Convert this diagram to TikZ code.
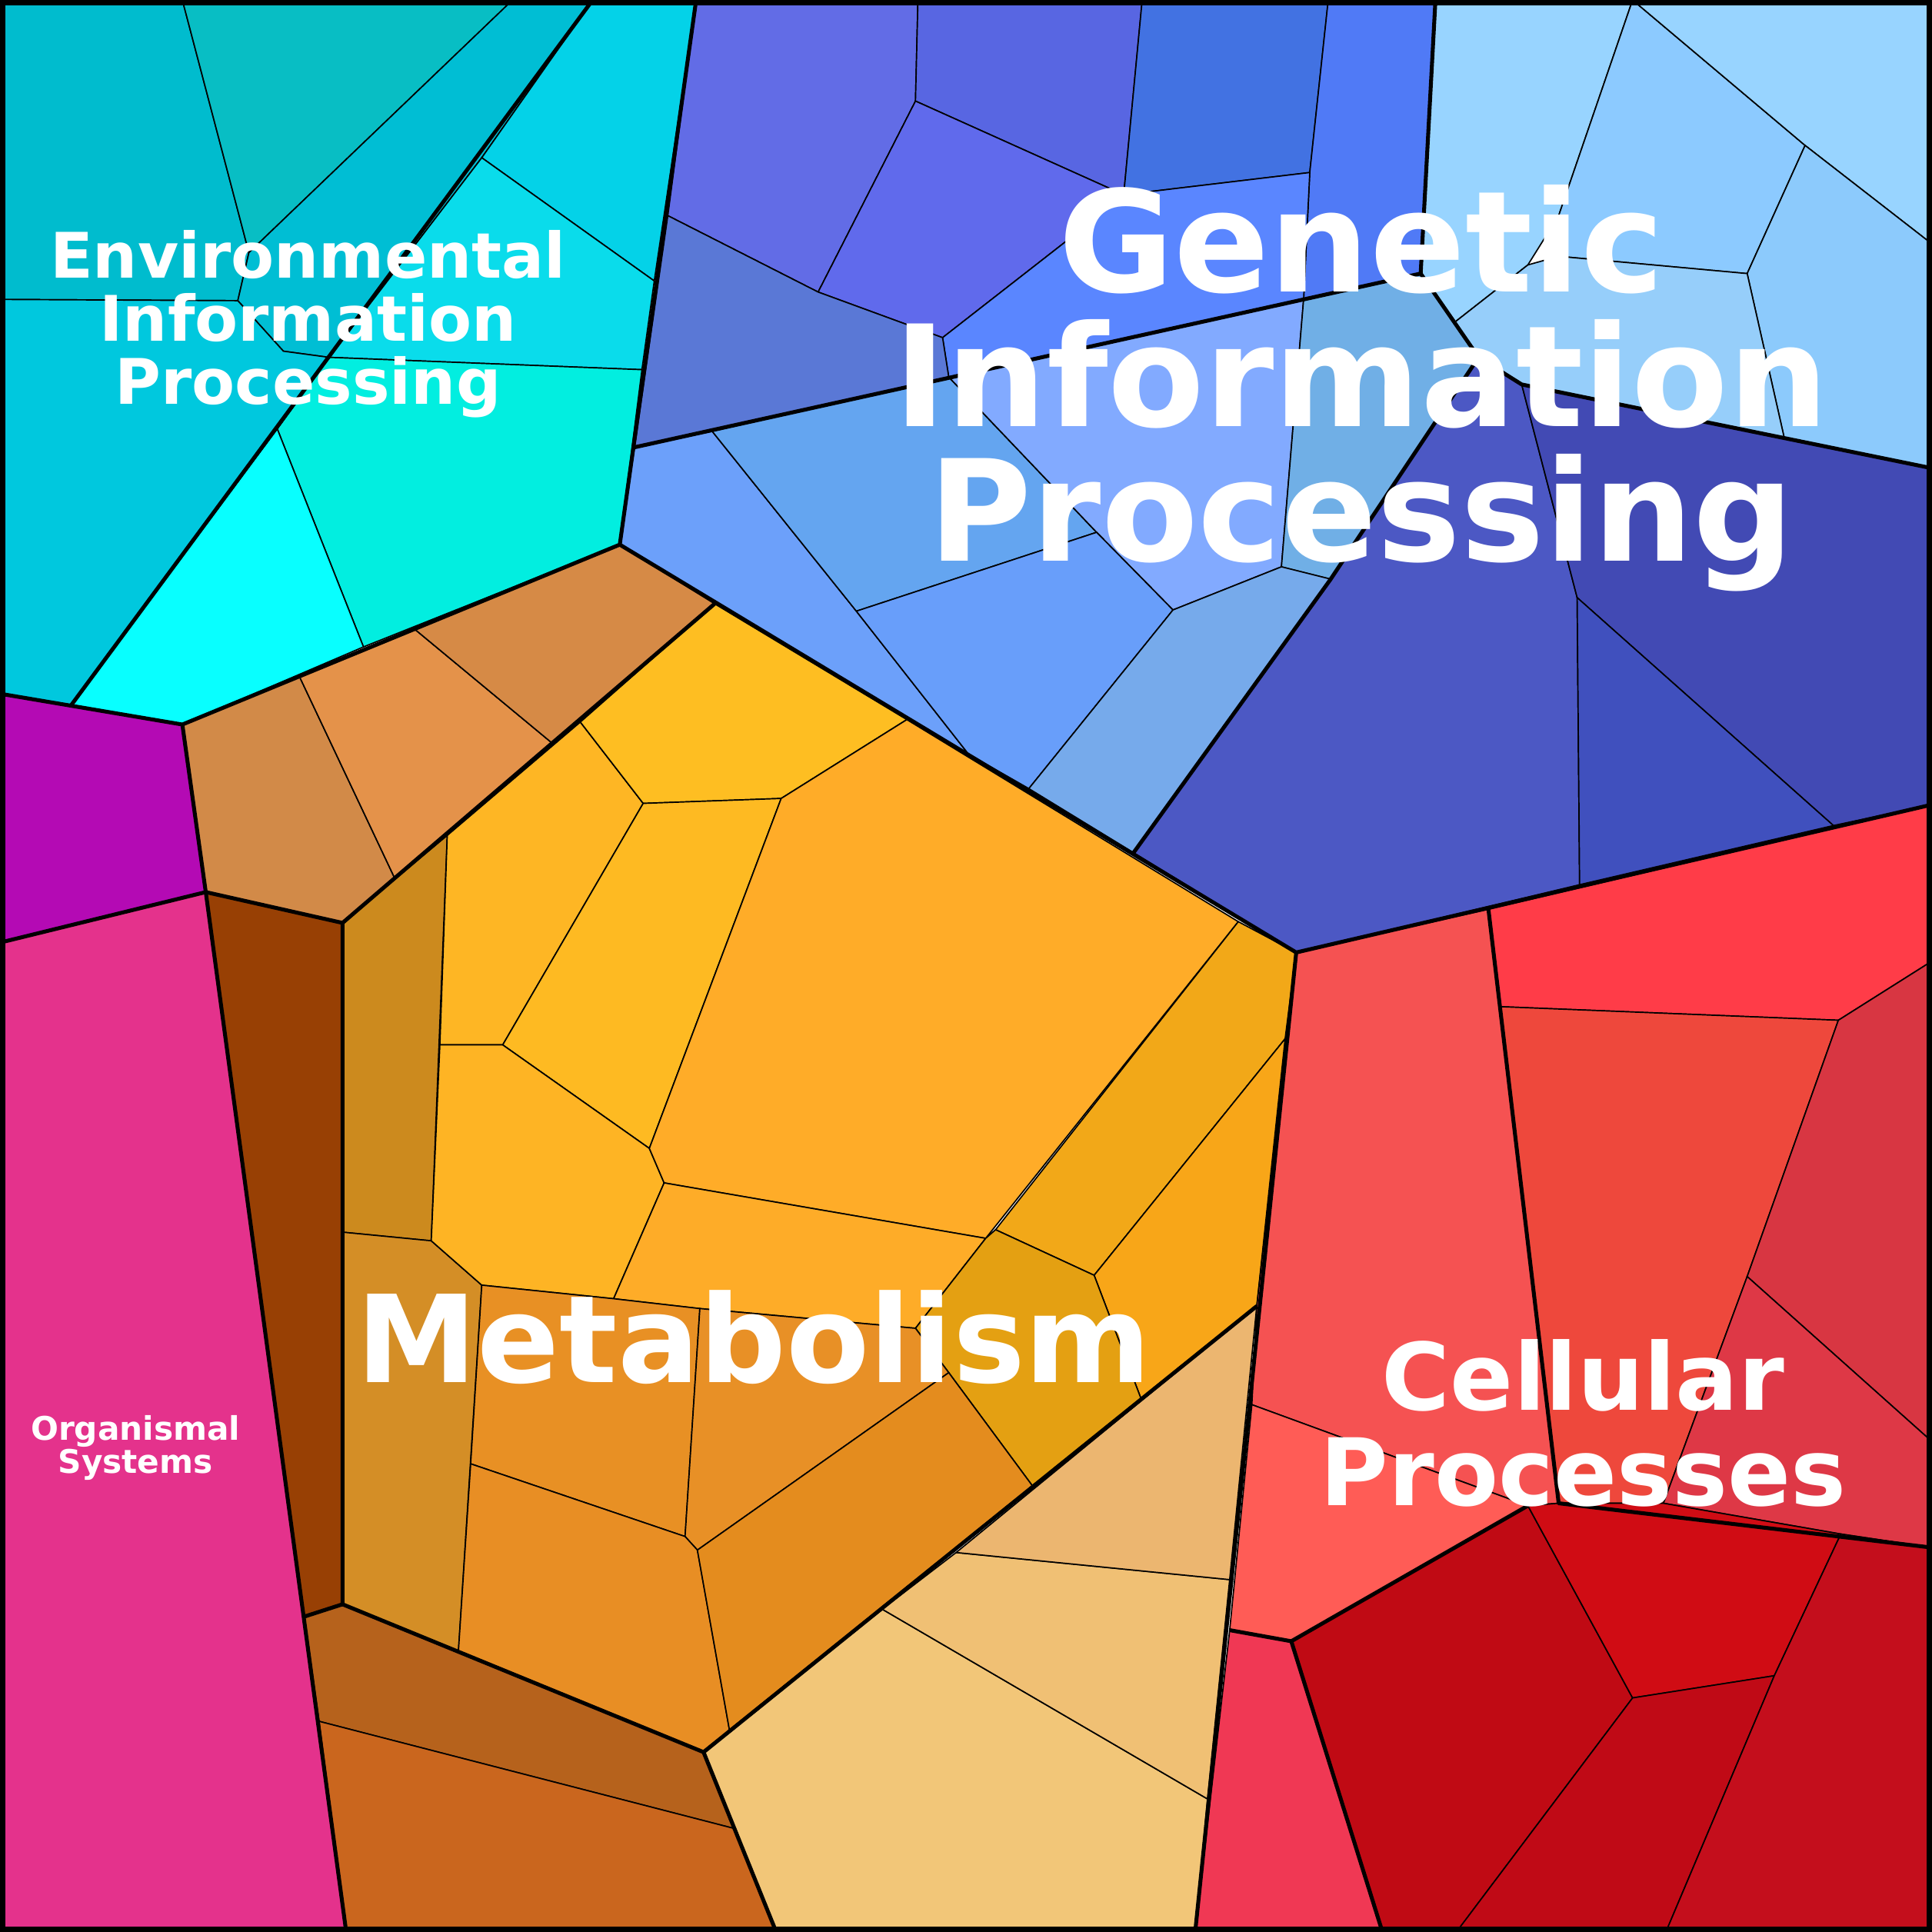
\documentclass[tikz,border=0pt]{standalone}
\usepackage{fontspec}
\setmainfont{DejaVu Sans}
\begin{document}
\newcommand\cel[2]{\definecolor{tmpc}{RGB}{#1}\filldraw[fill=tmpc,draw=black,line width=0.3pt] #2 -- cycle;}
\begin{tikzpicture}[x=0.01cm,y=-0.01cm,thick line/.style={line width=0.9pt,line join=round},
lab/.style={text=white,font=\bfseries,align=center}]
\useasboundingbox (0,0) rectangle (1568,1568);
% Environmental
\cel{0,188,206}{(0,0)--(148,0)--(202,205)--(193,244)--(0,243)}
\cel{8,190,196}{(148,0)--(416,0)--(202,205)}
\cel{0,190,212}{(202,205)--(416,0)--(481,0)--(391,128)--(267,290)--(230,285)--(193,244)}
\cel{4,210,232}{(481,0)--(565,0)--(531,228)--(391,128)}
\cel{10,220,235}{(391,128)--(531,228)--(521,300)--(267,290)}
\cel{2,238,224}{(267,290)--(521,300)--(503,442)--(295,525)--(225,348)}
\cel{8,255,255}{(225,348)--(295,525)--(148,588)--(58,572)}
\cel{0,200,222}{(0,243)--(193,244)--(230,285)--(267,290)--(225,348)--(58,572)--(0,563)}
% Genetic A
\cel{98,108,230}{(565,0)--(745,0)--(743,82)--(664,237)--(542,175)}
\cel{88,102,226}{(745,0)--(927,0)--(912,158)--(743,82)}
\cel{96,106,236}{(743,82)--(912,158)--(865,196)--(765,274)--(664,237)}
\cel{66,114,226}{(927,0)--(1078,0)--(1063,140)--(912,158)}
\cel{80,122,246}{(1078,0)--(1165,0)--(1153,222)--(1058,243)--(1063,140)}
\cel{90,134,255}{(912,158)--(1063,140)--(1058,243)--(770,306)--(765,274)--(865,196)}
\cel{90,120,214}{(542,175)--(664,237)--(765,274)--(770,306)--(515,363)}
% Genetic B
\cel{108,160,250}{(515,363)--(578,350)--(695,496)--(786,612)--(503,442)}
\cel{100,165,240}{(578,350)--(770,306)--(890,432)--(695,496)}
\cel{130,170,255}{(770,306)--(1058,243)--(1040,460)--(952,495)--(890,432)}
\cel{112,175,230}{(1058,243)--(1153,222)--(1200,290)--(1080,470)--(1040,460)}
\cel{104,158,250}{(695,496)--(890,432)--(952,495)--(835,640)--(786,612)}
\cel{118,170,235}{(952,495)--(1040,460)--(1080,470)--(920,692)--(835,640)}
% Genetic dark blue
\cel{76,88,196}{(1200,290)--(1235,312)--(1280,485)--(1282,718)--(1052,773)--(920,692)--(1080,470)}
\cel{66,74,180}{(1235,312)--(1568,380)--(1568,653)--(1488,670)--(1280,485)}
\cel{64,80,190}{(1280,485)--(1488,670)--(1282,718)}
% Genetic light blue
\cel{152,212,255}{(1165,0)--(1325,0)--(1265,175)--(1240,215)--(1180,262)--(1153,222)}
\cel{140,202,255}{(1325,0)--(1465,118)--(1418,222)--(1265,208)--(1265,175)}
\cel{152,212,255}{(1325,0)--(1568,0)--(1568,198)--(1465,118)}
\cel{140,202,252}{(1465,118)--(1568,198)--(1568,380)--(1448,355)--(1418,222)}
\cel{150,206,250}{(1265,208)--(1418,222)--(1448,355)--(1235,312)--(1200,290)--(1180,262)--(1240,215)}
% Metabolism outer
\cel{210,138,72}{(148,588)--(243,549)--(320,712)--(278,749)--(167,724)}
\cel{228,146,74}{(243,549)--(337,511)--(448,603)--(320,712)}
\cel{214,138,70}{(337,511)--(503,442)--(580,490)--(448,603)}
\cel{152,64,4}{(167,724)--(278,749)--(278,1302)--(247,1312)}
\cel{182,98,28}{(247,1312)--(278,1302)--(571,1422)--(596,1484)--(259,1397)}
\cel{202,102,30}{(259,1397)--(596,1484)--(630,1568)--(281,1568)}
\cel{242,198,120}{(571,1422)--(716,1306)--(980,1460)--(970,1568)--(630,1568)}
\cel{240,192,116}{(716,1306)--(776,1260)--(998,1282)--(980,1460)}
\cel{236,182,112}{(776,1260)--(1020,1060)--(998,1282)}
% Metabolism core
\cel{204,138,30}{(278,749)--(363,678)--(350,1007)--(278,1000)}
\cel{212,142,38}{(278,1000)--(350,1007)--(391,1043)--(372,1341)--(278,1302)}
\cel{254,182,36}{(363,678)--(471,586)--(522,652)--(408,848)--(357,848)}
\cel{254,190,34}{(471,586)--(580,490)--(736,584)--(634,648)--(522,652)}
\cel{254,186,34}{(522,652)--(634,648)--(527,932)--(408,848)}
\cel{254,180,36}{(357,848)--(408,848)--(527,932)--(539,960)--(498,1054)--(391,1043)--(350,1007)}
\cel{255,172,40}{(634,648)--(736,584)--(1005,748)--(800,1005)--(539,960)--(527,932)}
\cel{254,172,40}{(539,960)--(800,1005)--(743,1078)--(568,1062)--(498,1054)}
\cel{242,168,24}{(1005,748)--(1052,773)--(1043,843)--(888,1035)--(808,998)}
\cel{248,166,24}{(1043,843)--(1020,1060)--(926,1135)--(888,1035)}
\cel{228,160,18}{(808,998)--(888,1035)--(926,1135)--(838,1206)--(770,1114)--(743,1078)--(800,1005)}
\cel{232,144,36}{(391,1043)--(498,1054)--(568,1062)--(556,1247)--(382,1188)}
\cel{232,144,38}{(568,1062)--(743,1078)--(770,1114)--(566,1258)--(556,1247)}
\cel{232,142,36}{(382,1188)--(556,1247)--(566,1258)--(592,1404)--(571,1422)--(372,1341)}
\cel{228,140,30}{(566,1258)--(770,1114)--(838,1206)--(592,1404)}
% Organismal
\cel{180,10,180}{(0,563)--(148,588)--(167,724)--(0,765)}
\cel{228,50,140}{(0,765)--(167,724)--(281,1568)--(0,1568)}
% Cellular
\cel{245,82,82}{(1052,773)--(1208,738)--(1265,1220)--(1240,1222)--(1016,1140)--(1020,1060)}
\cel{255,60,72}{(1208,738)--(1568,653)--(1568,780)--(1492,828)--(1218,817)}
\cel{238,72,60}{(1218,817)--(1492,828)--(1418,1036)--(1350,1220)--(1265,1220)}
\cel{216,54,66}{(1492,828)--(1568,780)--(1568,1170)--(1418,1036)}
\cel{222,56,70}{(1418,1036)--(1568,1170)--(1568,1256)--(1494,1245)--(1350,1220)}
\cel{255,92,86}{(1016,1140)--(1240,1222)--(1048,1332)--(998,1323)}
\cel{240,56,84}{(998,1323)--(1048,1332)--(1122,1568)--(970,1568)}
\cel{192,10,20}{(1048,1332)--(1240,1222)--(1325,1378)--(1182,1568)--(1122,1568)}
\cel{208,12,20}{(1240,1222)--(1265,1220)--(1350,1220)--(1494,1245)--(1440,1360)--(1325,1378)}
\cel{192,10,22}{(1325,1378)--(1440,1360)--(1352,1568)--(1182,1568)}
\cel{196,14,28}{(1494,1245)--(1568,1256)--(1568,1568)--(1352,1568)--(1440,1360)}
% thick group boundaries
\draw[thick line] (565,0)--(503,442)--(148,588)--(0,563);
\draw[thick line] (481,0)--(58,572);
\draw[thick line] (1165,0)--(1153,222)--(1200,290)--(1235,312)--(1568,380);
\draw[thick line] (515,363)--(1153,222);
\draw[thick line] (1200,290)--(1080,470)--(920,692);
\draw[thick line] (503,442)--(1052,773)--(1568,653);
\draw[thick line] (148,588)--(167,724)--(0,765);
\draw[thick line] (167,724)--(281,1568);
\draw[thick line] (167,724)--(278,749);
\draw[thick line] (247,1312)--(278,1302);
\draw[thick line] (580,490)--(278,749)--(278,1302)--(571,1422)--(1020,1060);
\draw[thick line] (1052,773)--(970,1568);
\draw[thick line] (571,1422)--(630,1568);
\draw[thick line] (1208,738)--(1265,1220)--(1568,1256);
\draw[thick line] (998,1323)--(1048,1332)--(1122,1568);
\draw[thick line] (1048,1332)--(1240,1222);
\draw[line width=2.4pt] (0,0) rectangle (1568,1568);
% labels
\node[lab,font=\bfseries\fontsize{32.5}{31}\selectfont] (gen) at (1105,315) {Genetic\\Information\\Processing};
\node[lab,font=\bfseries\fontsize{28}{28}\selectfont] (met) at (612,1085) {Metabolism};
\node[lab,font=\bfseries\fontsize{21.5}{22}\selectfont] (cel) at (1285,1155) {Cellular\\Processes};
\node[lab,font=\bfseries\fontsize{14.5}{14.5}\selectfont] (env) at (250,263) {Environmental\\Information\\Processing};
\node[lab,font=\bfseries\fontsize{7.5}{7.5}\selectfont] (org) at (110,1175) {Organismal\\Systems};
\end{tikzpicture}
\end{document}
